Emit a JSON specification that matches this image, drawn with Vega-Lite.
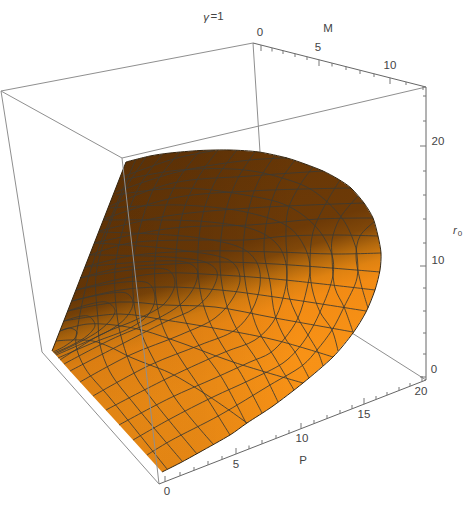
{"$schema":"https://vega.github.io/schema/vega-lite/v6.json","width":463,"height":506,"padding":0,"autosize":"none","background":"white","view":{"stroke":null},
"datasets":{
"back":[{"u":253,"v":43,"u2":260,"v2":152},{"u":426,"v":380,"u2":352,"v2":333},{"u":1,"v":91,"u2":253,"v2":43},{"u":1,"v":91,"u2":122,"v2":158},{"u":122,"v":158,"u2":426,"v2":87},{"u":1,"v":91,"u2":42,"v2":352},{"u":42,"v":352,"u2":159,"v2":484}],
"surface":[{"u":52,"v":351},{"u":126,"v":162},{"u":150,"v":156},{"u":170,"v":153},{"u":200,"v":150.5},{"u":230,"v":150},{"u":259,"v":152},{"u":287,"v":158},{"u":305,"v":164},{"u":323,"v":171},{"u":338,"v":179},{"u":351,"v":188},{"u":364,"v":203},{"u":373,"v":218},{"u":378,"v":236},{"u":381,"v":253},{"u":380,"v":270},{"u":375,"v":290},{"u":366,"v":312},{"u":353,"v":333},{"u":333,"v":357},{"u":303,"v":383},{"u":273,"v":406},{"u":247,"v":423},{"u":230,"v":435},{"u":200,"v":452},{"u":180,"v":463},{"u":162,"v":472},{"u":133,"v":440},{"u":113,"v":418},{"u":90,"v":393},{"u":70,"v":371},{"u":55,"v":354}],
"outline":[{"u":126,"v":162},{"u":150,"v":156},{"u":170,"v":153},{"u":200,"v":150.5},{"u":230,"v":150},{"u":259,"v":152},{"u":287,"v":158},{"u":305,"v":164},{"u":323,"v":171},{"u":338,"v":179},{"u":351,"v":188},{"u":364,"v":203},{"u":373,"v":218},{"u":378,"v":236},{"u":381,"v":253},{"u":380,"v":270},{"u":375,"v":290},{"u":366,"v":312},{"u":353,"v":333},{"u":333,"v":357},{"u":303,"v":383},{"u":273,"v":406},{"u":247,"v":423},{"u":230,"v":435},{"u":200,"v":452},{"u":180,"v":463},{"u":162,"v":472}],
"leftedge":[{"u":52,"v":351,"u2":126,"v2":162}],
"mesh":[
{"id":"R1","u":56,"v":341},{"id":"R1","u":70,"v":340},{"id":"R1","u":93,"v":341},{"id":"R1","u":110,"v":347},{"id":"R1","u":130,"v":357},{"id":"R1","u":150,"v":365},{"id":"R1","u":170,"v":373},{"id":"R1","u":210,"v":397},{"id":"R1","u":247,"v":423},
{"id":"R2","u":60,"v":331},{"id":"R2","u":88,"v":324},{"id":"R2","u":133,"v":328},{"id":"R2","u":173,"v":340},{"id":"R2","u":233,"v":362},{"id":"R2","u":303,"v":383},
{"id":"R3","u":64,"v":321},{"id":"R3","u":120,"v":314},{"id":"R3","u":165,"v":320},{"id":"R3","u":208,"v":327},{"id":"R3","u":275,"v":340},{"id":"R3","u":333,"v":357},
{"id":"R4","u":68,"v":311},{"id":"R4","u":120,"v":302},{"id":"R4","u":165,"v":305},{"id":"R4","u":215,"v":307},{"id":"R4","u":275,"v":318},{"id":"R4","u":353,"v":332},
{"id":"R5","u":72,"v":301},{"id":"R5","u":120,"v":290},{"id":"R5","u":165,"v":287},{"id":"R5","u":220,"v":290},{"id":"R5","u":275,"v":297},{"id":"R5","u":366,"v":311},
{"id":"R6","u":76,"v":290},{"id":"R6","u":120,"v":279},{"id":"R6","u":165,"v":273},{"id":"R6","u":220,"v":275},{"id":"R6","u":275,"v":279},{"id":"R6","u":375,"v":290},
{"id":"R7","u":80,"v":278},{"id":"R7","u":120,"v":268},{"id":"R7","u":172,"v":264},{"id":"R7","u":215,"v":262},{"id":"R7","u":275,"v":264},{"id":"R7","u":380,"v":272},
{"id":"R8","u":85,"v":267},{"id":"R8","u":130,"v":256},{"id":"R8","u":200,"v":251},{"id":"R8","u":275,"v":252},{"id":"R8","u":335,"v":254},{"id":"R8","u":381,"v":253},
{"id":"R9","u":90,"v":255},{"id":"R9","u":130,"v":243},{"id":"R9","u":200,"v":240},{"id":"R9","u":245,"v":240},{"id":"R9","u":288,"v":236},{"id":"R9","u":335,"v":235},{"id":"R9","u":378,"v":236},
{"id":"R10","u":94,"v":243},{"id":"R10","u":173,"v":228},{"id":"R10","u":250,"v":225},{"id":"R10","u":318,"v":219},{"id":"R10","u":373,"v":218},
{"id":"R11","u":99,"v":231},{"id":"R11","u":167,"v":216},{"id":"R11","u":250,"v":208},{"id":"R11","u":364,"v":203},
{"id":"R12","u":104,"v":219},{"id":"R12","u":173,"v":198},{"id":"R12","u":250,"v":191},{"id":"R12","u":351,"v":188},
{"id":"R13","u":110,"v":206},{"id":"R13","u":173,"v":183},{"id":"R13","u":250,"v":176},{"id":"R13","u":323,"v":171},
{"id":"R14","u":116,"v":192},{"id":"R14","u":177,"v":172},{"id":"R14","u":250,"v":160},{"id":"R14","u":287,"v":158},
{"id":"R15","u":122,"v":177},{"id":"R15","u":177,"v":158},{"id":"R15","u":215,"v":150.5},
{"id":"M1","u":147,"v":455},{"id":"M1","u":170,"v":441},{"id":"M1","u":220,"v":415},{"id":"M1","u":270,"v":385},{"id":"M1","u":303,"v":365},{"id":"M1","u":317,"v":350},{"id":"M1","u":332,"v":330},{"id":"M1","u":344,"v":307},{"id":"M1","u":357,"v":278},{"id":"M1","u":357,"v":255},{"id":"M1","u":355,"v":245},{"id":"M1","u":342,"v":218},{"id":"M1","u":312,"v":190},{"id":"M1","u":282,"v":178},{"id":"M1","u":245,"v":170},{"id":"M1","u":180,"v":170},{"id":"M1","u":122,"v":180},
{"id":"M2","u":133,"v":440},{"id":"M2","u":170,"v":419},{"id":"M2","u":213,"v":397},{"id":"M2","u":250,"v":380},{"id":"M2","u":283,"v":363},{"id":"M2","u":297,"v":350},{"id":"M2","u":308,"v":335},{"id":"M2","u":320,"v":312},{"id":"M2","u":333,"v":275},{"id":"M2","u":332,"v":255},{"id":"M2","u":317,"v":228},{"id":"M2","u":288,"v":206},{"id":"M2","u":245,"v":195},{"id":"M2","u":180,"v":188},{"id":"M2","u":116,"v":195},
{"id":"M3","u":119,"v":425},{"id":"M3","u":170,"v":398},{"id":"M3","u":215,"v":378},{"id":"M3","u":250,"v":362},{"id":"M3","u":270,"v":353},{"id":"M3","u":285,"v":338},{"id":"M3","u":298,"v":318},{"id":"M3","u":307,"v":288},{"id":"M3","u":310,"v":268},{"id":"M3","u":306,"v":250},{"id":"M3","u":290,"v":228},{"id":"M3","u":250,"v":213},{"id":"M3","u":180,"v":205},{"id":"M3","u":110,"v":208},
{"id":"M4","u":106,"v":410},{"id":"M4","u":170,"v":377},{"id":"M4","u":225,"v":352},{"id":"M4","u":255,"v":340},{"id":"M4","u":273,"v":322},{"id":"M4","u":283,"v":298},{"id":"M4","u":287,"v":272},{"id":"M4","u":280,"v":248},{"id":"M4","u":260,"v":232},{"id":"M4","u":210,"v":222},{"id":"M4","u":104,"v":220},
{"id":"M5","u":93,"v":396},{"id":"M5","u":150,"v":365},{"id":"M5","u":200,"v":345},{"id":"M5","u":235,"v":330},{"id":"M5","u":252,"v":310},{"id":"M5","u":260,"v":285},{"id":"M5","u":258,"v":265},{"id":"M5","u":245,"v":250},{"id":"M5","u":200,"v":238},{"id":"M5","u":99,"v":232},
{"id":"M6","u":80,"v":382},{"id":"M6","u":130,"v":355},{"id":"M6","u":180,"v":335},{"id":"M6","u":215,"v":318},{"id":"M6","u":233,"v":298},{"id":"M6","u":240,"v":278},{"id":"M6","u":232,"v":262},{"id":"M6","u":180,"v":250},{"id":"M6","u":94,"v":243},
{"id":"M7","u":70,"v":371},{"id":"M7","u":120,"v":345},{"id":"M7","u":165,"v":322},{"id":"M7","u":195,"v":308},{"id":"M7","u":212,"v":290},{"id":"M7","u":217,"v":272},{"id":"M7","u":205,"v":262},{"id":"M7","u":90,"v":255},
{"id":"M8","u":64,"v":364},{"id":"M8","u":110,"v":340},{"id":"M8","u":155,"v":320},{"id":"M8","u":182,"v":303},{"id":"M8","u":195,"v":285},{"id":"M8","u":197,"v":270},{"id":"M8","u":185,"v":262},{"id":"M8","u":85,"v":267},
{"id":"M9","u":60,"v":360},{"id":"M9","u":100,"v":335},{"id":"M9","u":140,"v":318},{"id":"M9","u":165,"v":303},{"id":"M9","u":175,"v":283},{"id":"M9","u":168,"v":270},{"id":"M9","u":80,"v":278},
{"id":"M10","u":58,"v":358},{"id":"M10","u":95,"v":342},{"id":"M10","u":130,"v":328},{"id":"M10","u":148,"v":315},{"id":"M10","u":155,"v":298},{"id":"M10","u":148,"v":283},{"id":"M10","u":76,"v":290},
{"id":"M11","u":56,"v":355},{"id":"M11","u":90,"v":340},{"id":"M11","u":115,"v":327},{"id":"M11","u":128,"v":315},{"id":"M11","u":133,"v":302},{"id":"M11","u":126,"v":293},{"id":"M11","u":72,"v":301},
{"id":"M12","u":55,"v":354},{"id":"M12","u":80,"v":342},{"id":"M12","u":100,"v":330},{"id":"M12","u":112,"v":318},{"id":"M12","u":115,"v":310},{"id":"M12","u":106,"v":302},{"id":"M12","u":68,"v":311},
{"id":"M13","u":54,"v":353},{"id":"M13","u":72,"v":345},{"id":"M13","u":88,"v":335},{"id":"M13","u":95,"v":325},{"id":"M13","u":88,"v":316},{"id":"M13","u":64,"v":321},
{"id":"M14","u":53,"v":352},{"id":"M14","u":65,"v":346},{"id":"M14","u":75,"v":338},{"id":"M14","u":77,"v":332},{"id":"M14","u":70,"v":328},{"id":"M14","u":60,"v":331},
{"id":"P1","u":374,"v":222},{"id":"P1","u":360,"v":236},{"id":"P1","u":356,"v":255},{"id":"P1","u":360,"v":280},{"id":"P1","u":368,"v":308},
{"id":"P2","u":358,"v":196},{"id":"P2","u":340,"v":218},{"id":"P2","u":332,"v":240},{"id":"P2","u":332,"v":255},{"id":"P2","u":335,"v":288},{"id":"P2","u":344,"v":307},{"id":"P2","u":353,"v":332},
{"id":"P3","u":340,"v":180},{"id":"P3","u":325,"v":205},{"id":"P3","u":313,"v":232},{"id":"P3","u":310,"v":265},{"id":"P3","u":312,"v":288},{"id":"P3","u":320,"v":312},{"id":"P3","u":332,"v":330},{"id":"P3","u":338,"v":351},
{"id":"P4","u":313,"v":167},{"id":"P4","u":300,"v":185},{"id":"P4","u":288,"v":210},{"id":"P4","u":286,"v":240},{"id":"P4","u":287,"v":255},{"id":"P4","u":288,"v":292},{"id":"P4","u":298,"v":318},{"id":"P4","u":308,"v":335},{"id":"P4","u":318,"v":352},{"id":"P4","u":323,"v":366},
{"id":"P5","u":295,"v":160},{"id":"P5","u":278,"v":185},{"id":"P5","u":268,"v":215},{"id":"P5","u":264,"v":250},{"id":"P5","u":270,"v":282},{"id":"P5","u":275,"v":315},{"id":"P5","u":285,"v":338},{"id":"P5","u":295,"v":352},{"id":"P5","u":309,"v":378},
{"id":"P6","u":275,"v":155},{"id":"P6","u":258,"v":182},{"id":"P6","u":248,"v":212},{"id":"P6","u":243,"v":250},{"id":"P6","u":245,"v":280},{"id":"P6","u":250,"v":305},{"id":"P6","u":258,"v":330},{"id":"P6","u":275,"v":358},{"id":"P6","u":294,"v":390},
{"id":"P7","u":255,"v":152},{"id":"P7","u":238,"v":178},{"id":"P7","u":226,"v":210},{"id":"P7","u":220,"v":250},{"id":"P7","u":222,"v":285},{"id":"P7","u":229,"v":312},{"id":"P7","u":240,"v":335},{"id":"P7","u":258,"v":362},{"id":"P7","u":278,"v":402},
{"id":"P8","u":237,"v":150},{"id":"P8","u":218,"v":176},{"id":"P8","u":204,"v":210},{"id":"P8","u":198,"v":250},{"id":"P8","u":200,"v":290},{"id":"P8","u":208,"v":318},{"id":"P8","u":222,"v":345},{"id":"P8","u":240,"v":372},{"id":"P8","u":262,"v":413},
{"id":"P9","u":218,"v":150},{"id":"P9","u":198,"v":178},{"id":"P9","u":183,"v":212},{"id":"P9","u":176,"v":255},{"id":"P9","u":178,"v":295},{"id":"P9","u":186,"v":322},{"id":"P9","u":200,"v":347},{"id":"P9","u":222,"v":378},{"id":"P9","u":246,"v":423},
{"id":"P10","u":200,"v":151},{"id":"P10","u":178,"v":180},{"id":"P10","u":163,"v":215},{"id":"P10","u":155,"v":260},{"id":"P10","u":157,"v":305},{"id":"P10","u":165,"v":332},{"id":"P10","u":180,"v":358},{"id":"P10","u":203,"v":392},{"id":"P10","u":230,"v":435},
{"id":"P11","u":180,"v":152},{"id":"P11","u":158,"v":180},{"id":"P11","u":142,"v":220},{"id":"P11","u":133,"v":265},{"id":"P11","u":135,"v":310},{"id":"P11","u":142,"v":335},{"id":"P11","u":155,"v":362},{"id":"P11","u":175,"v":398},{"id":"P11","u":213,"v":444},
{"id":"P12","u":162,"v":155},{"id":"P12","u":140,"v":185},{"id":"P12","u":124,"v":225},{"id":"P12","u":115,"v":270},{"id":"P12","u":117,"v":315},{"id":"P12","u":122,"v":340},{"id":"P12","u":135,"v":375},{"id":"P12","u":155,"v":403},{"id":"P12","u":197,"v":454},
{"id":"P13","u":146,"v":157},{"id":"P13","u":125,"v":190},{"id":"P13","u":108,"v":230},{"id":"P13","u":96,"v":275},{"id":"P13","u":98,"v":320},{"id":"P13","u":100,"v":345},{"id":"P13","u":110,"v":372},{"id":"P13","u":135,"v":405},{"id":"P13","u":182,"v":461},
{"id":"P14","u":136,"v":159},{"id":"P14","u":112,"v":215},{"id":"P14","u":90,"v":272},{"id":"P14","u":78,"v":325},{"id":"P14","u":76,"v":345},{"id":"P14","u":85,"v":368},{"id":"P14","u":110,"v":398},{"id":"P14","u":167,"v":469}
],
"edges":[{"u":122,"v":158,"u2":159,"v2":484}],
"axes":[{"u":253,"v":43,"u2":426,"v2":87},{"u":426,"v":87,"u2":426,"v2":380},{"u":159,"v":484,"u2":426,"v2":380}],
"ticks":[
{"u":261,"v":45,"u2":261,"v2":51},{"u":272,"v":48,"u2":272,"v2":51.5},{"u":283,"v":50.6,"u2":283,"v2":54},{"u":295,"v":53.7,"u2":295,"v2":57},{"u":307,"v":56.7,"u2":307,"v2":60},{"u":319,"v":59.8,"u2":319,"v2":66},{"u":332,"v":63,"u2":332,"v2":66.5},{"u":346,"v":66.6,"u2":346,"v2":70},{"u":360,"v":70.2,"u2":360,"v2":74},{"u":374,"v":73.8,"u2":374,"v2":77},{"u":390,"v":77.8,"u2":390,"v2":84},{"u":406,"v":81.9,"u2":406,"v2":85},{"u":423,"v":86.2,"u2":423,"v2":90},
{"u":426,"v":96,"u2":423,"v2":96},{"u":426,"v":121,"u2":423,"v2":121},{"u":426,"v":146,"u2":420,"v2":146},{"u":426,"v":171,"u2":423,"v2":171},{"u":426,"v":195,"u2":423,"v2":195},{"u":426,"v":219,"u2":423,"v2":219},{"u":426,"v":243,"u2":423,"v2":243},{"u":426,"v":266,"u2":420,"v2":266},{"u":426,"v":288,"u2":423,"v2":288},{"u":426,"v":311,"u2":423,"v2":311},{"u":426,"v":333,"u2":423,"v2":333},{"u":426,"v":354,"u2":423,"v2":354},{"u":426,"v":377,"u2":420,"v2":377},
{"u":165,"v":481.7,"u2":165,"v2":476},{"u":180,"v":475.8,"u2":180,"v2":472},{"u":194,"v":470.4,"u2":194,"v2":467},{"u":208,"v":464.9,"u2":208,"v2":461},{"u":222,"v":459.5,"u2":222,"v2":456},{"u":236,"v":454,"u2":236,"v2":448},{"u":249,"v":449,"u2":249,"v2":445.5},{"u":262,"v":443.9,"u2":262,"v2":440},{"u":276,"v":438.4,"u2":276,"v2":435},{"u":289,"v":433.4,"u2":289,"v2":430},{"u":301,"v":428.7,"u2":301,"v2":423},{"u":314,"v":423.6,"u2":314,"v2":420},{"u":327,"v":418.6,"u2":327,"v2":415},{"u":340,"v":413.5,"u2":340,"v2":410},{"u":352,"v":408.8,"u2":352,"v2":405},{"u":364,"v":404.2,"u2":364,"v2":398},{"u":376,"v":399.5,"u2":376,"v2":396},{"u":387,"v":395.2,"u2":387,"v2":392},{"u":399,"v":390.5,"u2":399,"v2":387},{"u":410,"v":386.2,"u2":410,"v2":383},{"u":422,"v":381.6,"u2":422,"v2":376}],
"labels":[{"u":260,"v":33,"t":"0"},{"u":318,"v":48,"t":"5"},{"u":390,"v":66,"t":"10"},{"u":328,"v":29,"t":"M"},{"u":438,"v":142,"t":"20"},{"u":438,"v":261,"t":"10"},{"u":434,"v":370,"t":"0"},{"u":167,"v":492,"t":"0"},{"u":236,"v":465,"t":"5"},{"u":302,"v":439,"t":"10"},{"u":364,"v":415,"t":"15"},{"u":421,"v":392,"t":"20"},{"u":303,"v":461,"t":"P"},{"u":217,"v":17,"t":"=1"}],
"ital":[{"u":206,"v":18,"t":"γ"},{"u":455,"v":231,"t":"r"}],
"small":[{"u":460,"v":234,"t":"0"}]
},
"encoding":{
"x":{"field":"u","type":"quantitative","scale":{"domain":[0,463]},"axis":null},
"y":{"field":"v","type":"quantitative","scale":{"domain":[506,0]},"axis":null}
},
"layer":[
{"data":{"name":"back"},"mark":{"type":"rule","stroke":"#8f8f8f","strokeWidth":1},"encoding":{"x2":{"field":"u2"},"y2":{"field":"v2"}}},
{"data":{"name":"surface"},"mark":{"type":"line","interpolate":"linear-closed","strokeWidth":0,"fill":{"gradient":"linear","x1":0.35,"y1":0,"x2":0.65,"y2":1,"stops":[{"offset":0,"color":"#643506"},{"offset":0.33,"color":"#6d3a07"},{"offset":0.39,"color":"#804709"},{"offset":0.44,"color":"#b2680d"},{"offset":0.49,"color":"#df8211"},{"offset":0.54,"color":"#f28b14"},{"offset":0.7,"color":"#f89216"},{"offset":1,"color":"#f58f15"}]}},"encoding":{"order":{"value":null}}},
{"data":{"name":"surface"},"mark":{"type":"line","interpolate":"linear-closed","strokeWidth":0,"fill":{"gradient":"linear","x1":0,"y1":0,"x2":1,"y2":0,"stops":[{"offset":0,"color":"rgba(0,0,0,0.1)"},{"offset":0.45,"color":"rgba(0,0,0,0.07)"},{"offset":0.75,"color":"rgba(0,0,0,0)"},{"offset":1,"color":"rgba(0,0,0,0)"}]}},"encoding":{"order":{"value":null}}},
{"data":{"name":"mesh"},"mark":{"type":"line","interpolate":"catmull-rom","stroke":"#3c3a32","strokeWidth":1,"opacity":0.85},"encoding":{"detail":{"field":"id"},"order":{"value":null}}},
{"data":{"name":"outline"},"mark":{"type":"line","interpolate":"cardinal","tension":0.2,"stroke":"#33240f","strokeWidth":1},"encoding":{"order":{"value":null}}},
{"data":{"name":"leftedge"},"mark":{"type":"rule","stroke":"#33240f","strokeWidth":1},"encoding":{"x2":{"field":"u2"},"y2":{"field":"v2"}}},
{"data":{"name":"edges"},"mark":{"type":"rule","stroke":"#8f8f8f","strokeWidth":1},"encoding":{"x2":{"field":"u2"},"y2":{"field":"v2"}}},
{"data":{"name":"axes"},"mark":{"type":"rule","stroke":"#666666","strokeWidth":1},"encoding":{"x2":{"field":"u2"},"y2":{"field":"v2"}}},
{"data":{"name":"ticks"},"mark":{"type":"rule","stroke":"#777777","strokeWidth":1},"encoding":{"x2":{"field":"u2"},"y2":{"field":"v2"}}},
{"data":{"name":"labels"},"mark":{"type":"text","font":"Liberation Sans","fontSize":11.5,"fill":"#444444"},"encoding":{"text":{"field":"t"}}},
{"data":{"name":"ital"},"mark":{"type":"text","font":"Liberation Sans","fontSize":11.5,"fontStyle":"italic","fill":"#444444"},"encoding":{"text":{"field":"t"}}},
{"data":{"name":"small"},"mark":{"type":"text","font":"Liberation Sans","fontSize":8,"fill":"#444444"},"encoding":{"text":{"field":"t"}}}
]}
